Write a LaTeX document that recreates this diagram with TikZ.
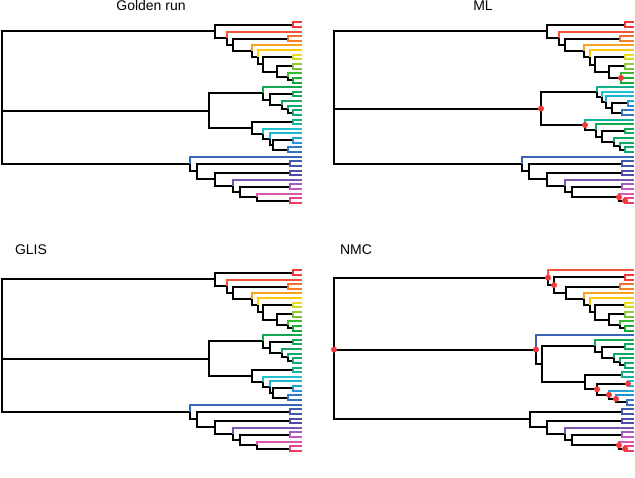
\documentclass[tikz,border=0pt]{standalone}
\usepackage{fontspec}
\setmainfont{Liberation Sans}
\usetikzlibrary{calc}
\definecolor{c1}{Hsb}{0,.78,.95}
\definecolor{c2}{Hsb}{2,.78,.95}
\definecolor{c3}{Hsb}{8,.75,.95}
\definecolor{c4}{Hsb}{20,.8,.95}
\definecolor{c5}{Hsb}{26,.85,.95}
\definecolor{c6}{Hsb}{36,.88,.97}
\definecolor{c7}{Hsb}{48,.95,.97}
\definecolor{c8}{Hsb}{56,.9,.92}
\definecolor{c9}{Hsb}{64,.85,.85}
\definecolor{c10}{Hsb}{82,.7,.78}
\definecolor{c11}{Hsb}{92,.7,.75}
\definecolor{c12}{Hsb}{115,.75,.72}
\definecolor{c13}{Hsb}{128,.85,.68}
\definecolor{c14}{Hsb}{135,.9,.66}
\definecolor{c15}{Hsb}{145,.9,.66}
\definecolor{c16}{Hsb}{148,.9,.66}
\definecolor{c17}{Hsb}{150,.9,.66}
\definecolor{c18}{Hsb}{152,.9,.66}
\definecolor{c19}{Hsb}{154,.9,.66}
\definecolor{c20}{Hsb}{156,.9,.66}
\definecolor{c21}{Hsb}{158,.9,.66}
\definecolor{c22}{Hsb}{165,.9,.68}
\definecolor{c23}{Hsb}{172,.9,.7}
\definecolor{c24}{Hsb}{184,.85,.8}
\definecolor{c25}{Hsb}{190,.85,.82}
\definecolor{c26}{Hsb}{198,.85,.85}
\definecolor{c27}{Hsb}{203,.85,.85}
\definecolor{c28}{Hsb}{212,.75,.78}
\definecolor{c29}{Hsb}{217,.7,.75}
\definecolor{c30}{Hsb}{220,.68,.72}
\definecolor{c31}{Hsb}{224,.65,.7}
\definecolor{c32}{Hsb}{228,.62,.68}
\definecolor{c33}{Hsb}{236,.55,.65}
\definecolor{c34}{Hsb}{242,.55,.65}
\definecolor{c35}{Hsb}{262,.5,.68}
\definecolor{c36}{Hsb}{285,.5,.72}
\definecolor{c37}{Hsb}{300,.55,.78}
\definecolor{c38}{Hsb}{318,.6,.85}
\definecolor{c39}{Hsb}{335,.7,.9}
\definecolor{c40}{Hsb}{348,.75,.92}
\definecolor{dotred}{HTML}{F23A3A}
\tikzset{title/.style={font=\fontsize{14}{16}\selectfont,anchor=base,inner sep=0pt}}
\newcommand\tnode[4]{\path let \p1=(#3),\p2=(#4) in coordinate (#1) at (#2pt,{0.5*\y1+0.5*\y2});}
\newcommand\tbk[2]{\draw (#1) |- (#2);}
\newcommand\tlv[3]{\draw[c#3] (#1) |- (#2L#3);}
\newcommand\tdot[1]{\fill[dotred] (#1) circle (3pt);}
\newcommand\goldtree[2]{%
\foreach \id [count=\k] in {1,...,40} {\coordinate (#1L\id) at (302,{#2+22.3+(\k-1)*4.633});}
\tnode{#1t1}{293}{#1L1}{#1L2}
\tnode{#1t9}{293}{#1L13}{#1L14}
\tnode{#1t8}{288}{#1L12}{#1t9}
\tnode{#1t7}{293}{#1L10}{#1L11}
\tnode{#1t6}{277}{#1t7}{#1t8}
\tnode{#1t5}{293}{#1L8}{#1L9}
\tnode{#1t4}{263}{#1t5}{#1t6}
\tnode{#1t3}{258}{#1L7}{#1t4}
\tnode{#1t2}{252}{#1L6}{#1t3}
\tnode{#1t10}{288}{#1L4}{#1L5}
\tnode{#1t11}{233}{#1t10}{#1t2}
\tnode{#1t12}{227}{#1L3}{#1t11}
\tnode{#1tT}{215}{#1t1}{#1t12}
\tnode{#1m2}{293}{#1L16}{#1L17}
\tnode{#1m5}{293}{#1L20}{#1L21}
\tnode{#1m4}{288}{#1L19}{#1m5}
\tnode{#1m3}{282}{#1L18}{#1m4}
\tnode{#1m1}{270}{#1m2}{#1m3}
\tnode{#1M1}{263}{#1L15}{#1m1}
\tnode{#1n0}{293}{#1L22}{#1L23}
\tnode{#1n4}{293}{#1L26}{#1L27}
\tnode{#1n5}{288}{#1L28}{#1L29}
\tnode{#1n3}{273}{#1n4}{#1n5}
\tnode{#1n2}{270}{#1L25}{#1n3}
\tnode{#1n1}{263}{#1L24}{#1n2}
\tnode{#1M2}{252}{#1n0}{#1n1}
\tnode{#1MM}{209}{#1M1}{#1M2}
\tnode{#1b8}{290}{#1L31}{#1L32}
\tnode{#1b1}{290}{#1L33}{#1L34}
\tnode{#1b4}{290}{#1L36}{#1L37}
\tnode{#1b6}{290}{#1L39}{#1L40}
\tnode{#1b5}{257}{#1L38}{#1b6}
\tnode{#1b3}{240}{#1b4}{#1b5}
\tnode{#1b2}{233}{#1L35}{#1b3}
\tnode{#1b7}{215}{#1b1}{#1b2}
\tnode{#1b9}{197}{#1b8}{#1b7}
\tnode{#1BB}{190}{#1L30}{#1b9}
\tnode{#1R}{2}{#1tT}{#1BB}
\tbk{#1R}{#1tT}\tbk{#1R}{#1MM}\tbk{#1R}{#1BB}
\tbk{#1tT}{#1t1}\tlv{#1t1}{#1}{1}\tlv{#1t1}{#1}{2}
\tbk{#1tT}{#1t12}\tlv{#1t12}{#1}{3}\tbk{#1t12}{#1t11}
\tbk{#1t11}{#1t10}\tlv{#1t10}{#1}{4}\tlv{#1t10}{#1}{5}
\tbk{#1t11}{#1t2}\tlv{#1t2}{#1}{6}\tbk{#1t2}{#1t3}
\tlv{#1t3}{#1}{7}\tbk{#1t3}{#1t4}
\tbk{#1t4}{#1t5}\tlv{#1t5}{#1}{8}\tlv{#1t5}{#1}{9}
\tbk{#1t4}{#1t6}\tbk{#1t6}{#1t7}\tlv{#1t7}{#1}{10}\tlv{#1t7}{#1}{11}
\tbk{#1t6}{#1t8}\tlv{#1t8}{#1}{12}\tbk{#1t8}{#1t9}\tlv{#1t9}{#1}{13}\tlv{#1t9}{#1}{14}
\tbk{#1MM}{#1M1}\tbk{#1MM}{#1M2}
\tlv{#1M1}{#1}{15}\tbk{#1M1}{#1m1}
\tbk{#1m1}{#1m2}\tlv{#1m2}{#1}{16}\tlv{#1m2}{#1}{17}
\tbk{#1m1}{#1m3}\tlv{#1m3}{#1}{18}\tbk{#1m3}{#1m4}
\tlv{#1m4}{#1}{19}\tbk{#1m4}{#1m5}\tlv{#1m5}{#1}{20}\tlv{#1m5}{#1}{21}
\tbk{#1M2}{#1n0}\tlv{#1n0}{#1}{22}\tlv{#1n0}{#1}{23}
\tbk{#1M2}{#1n1}\tlv{#1n1}{#1}{24}\tbk{#1n1}{#1n2}
\tlv{#1n2}{#1}{25}\tbk{#1n2}{#1n3}
\tbk{#1n3}{#1n4}\tlv{#1n4}{#1}{26}\tlv{#1n4}{#1}{27}
\tbk{#1n3}{#1n5}\tlv{#1n5}{#1}{28}\tlv{#1n5}{#1}{29}
\tlv{#1BB}{#1}{30}\tbk{#1BB}{#1b9}
\tbk{#1b9}{#1b8}\tlv{#1b8}{#1}{31}\tlv{#1b8}{#1}{32}
\tbk{#1b9}{#1b7}\tbk{#1b7}{#1b1}\tlv{#1b1}{#1}{33}\tlv{#1b1}{#1}{34}
\tbk{#1b7}{#1b2}\tlv{#1b2}{#1}{35}\tbk{#1b2}{#1b3}
\tbk{#1b3}{#1b4}\tlv{#1b4}{#1}{36}\tlv{#1b4}{#1}{37}
\tbk{#1b3}{#1b5}\tlv{#1b5}{#1}{38}\tbk{#1b5}{#1b6}\tlv{#1b6}{#1}{39}\tlv{#1b6}{#1}{40}
}
\begin{document}
\begin{tikzpicture}[x=1pt,y=-1pt,line width=2pt,line join=miter]
\fill[white] (0,0) rectangle (635,478);
\useasboundingbox (0,0) rectangle (635,478);
\goldtree{g}{0}
\goldtree{s}{248}
% ---------------- ML ----------------
\foreach \id [count=\k] in {1,2,3,4,5,6,7,8,9,10,11,12,13,14,22,24,25,26,27,28,29,23,15,16,17,18,19,20,21,30,31,32,33,34,35,36,37,38,39,40} {\coordinate (mL\id) at (634,{22.3+(\k-1)*4.633});}
\tnode{mt1}{625}{mL1}{mL2}
\tnode{mt8}{621}{mL12}{mL14}
\tnode{mt7}{625}{mL10}{mL11}
\tnode{mt6}{609}{mt7}{mt8}
\tnode{mt5}{625}{mL8}{mL9}
\tnode{mt4}{595}{mt5}{mt6}
\tnode{mt3}{590}{mL7}{mt4}
\tnode{mt2}{584}{mL6}{mt3}
\tnode{mt10}{620}{mL4}{mL5}
\tnode{mt11}{565}{mt10}{mt2}
\tnode{mt12}{559}{mL3}{mt11}
\tnode{mtT}{547}{mt1}{mt12}
\tnode{mn4}{628}{mL26}{mL27}
\tnode{mn5}{622}{mL28}{mL29}
\tnode{mn3}{612}{mn4}{mn5}
\tnode{mn2}{606}{mL25}{mn3}
\tnode{mn1}{602}{mL24}{mn2}
\tnode{mM2}{597}{mL22}{mn1}
\tnode{mm2}{625}{mL16}{mL17}
\tnode{mm5}{625}{mL20}{mL21}
\tnode{mm4}{620}{mL19}{mm5}
\tnode{mm3}{614}{mL18}{mm4}
\tnode{mm1}{602}{mm2}{mm3}
\tnode{mMg}{596}{mL15}{mm1}
\tnode{mM1}{585}{mL23}{mMg}
\tnode{mMM}{541}{mM2}{mM1}
\tnode{mb8}{622}{mL31}{mL32}
\tnode{mb1}{622}{mL33}{mL34}
\tnode{mb4}{622}{mL36}{mL37}
\tnode{mb6}{625}{mL39}{mL40}
\tnode{mb5}{619}{mL38}{mb6}
\tnode{mb3}{572}{mb4}{mb5}
\tnode{mb2}{565}{mL35}{mb3}
\tnode{mb7}{547}{mb1}{mb2}
\tnode{mb9}{529}{mb8}{mb7}
\tnode{mBB}{522}{mL30}{mb9}
\tnode{mR}{334}{mtT}{mBB}
\tbk{mR}{mtT}\tbk{mR}{mMM}\tbk{mR}{mBB}
\tbk{mtT}{mt1}\tlv{mt1}{m}{1}\tlv{mt1}{m}{2}
\tbk{mtT}{mt12}\tlv{mt12}{m}{3}\tbk{mt12}{mt11}
\tbk{mt11}{mt10}\tlv{mt10}{m}{4}\tlv{mt10}{m}{5}
\tbk{mt11}{mt2}\tlv{mt2}{m}{6}\tbk{mt2}{mt3}
\tlv{mt3}{m}{7}\tbk{mt3}{mt4}
\tbk{mt4}{mt5}\tlv{mt5}{m}{8}\tlv{mt5}{m}{9}
\tbk{mt4}{mt6}\tbk{mt6}{mt7}\tlv{mt7}{m}{10}\tlv{mt7}{m}{11}
\tbk{mt6}{mt8}\tlv{mt8}{m}{12}\tlv{mt8}{m}{13}\tlv{mt8}{m}{14}
\tbk{mMM}{mM2}\tbk{mMM}{mM1}
\tlv{mM2}{m}{22}\tbk{mM2}{mn1}
\tlv{mn1}{m}{24}\tbk{mn1}{mn2}
\tlv{mn2}{m}{25}\tbk{mn2}{mn3}
\tbk{mn3}{mn4}\tlv{mn4}{m}{26}\tlv{mn4}{m}{27}
\tbk{mn3}{mn5}\tlv{mn5}{m}{28}\tlv{mn5}{m}{29}
\tlv{mM1}{m}{23}\tbk{mM1}{mMg}
\tlv{mMg}{m}{15}\tbk{mMg}{mm1}
\tbk{mm1}{mm2}\tlv{mm2}{m}{16}\tlv{mm2}{m}{17}
\tbk{mm1}{mm3}\tlv{mm3}{m}{18}\tbk{mm3}{mm4}
\tlv{mm4}{m}{19}\tbk{mm4}{mm5}\tlv{mm5}{m}{20}\tlv{mm5}{m}{21}
\tlv{mBB}{m}{30}\tbk{mBB}{mb9}
\tbk{mb9}{mb8}\tlv{mb8}{m}{31}\tlv{mb8}{m}{32}
\tbk{mb9}{mb7}\tbk{mb7}{mb1}\tlv{mb1}{m}{33}\tlv{mb1}{m}{34}
\tbk{mb7}{mb2}\tlv{mb2}{m}{35}\tbk{mb2}{mb3}
\tbk{mb3}{mb4}\tlv{mb4}{m}{36}\tlv{mb4}{m}{37}
\tbk{mb3}{mb5}\tlv{mb5}{m}{38}\tbk{mb5}{mb6}\tlv{mb6}{m}{39}\tlv{mb6}{m}{40}
\tdot{mt8}\tdot{mMM}\tdot{mM1}\tdot{mb5}\tdot{mb6}
% ---------------- NMC ----------------
\foreach \id [count=\k] in {3,1,2,4,5,6,7,8,9,10,11,12,13,14,30,15,16,17,18,19,20,21,22,23,24,25,26,27,28,29,31,32,33,34,35,36,37,38,39,40} {\coordinate (nL\id) at (634,{270.3+(\k-1)*4.633});}
\tnode{nt1}{625}{nL1}{nL2}
\tnode{nt9}{625}{nL13}{nL14}
\tnode{nt8}{620}{nL12}{nt9}
\tnode{nt7}{625}{nL10}{nL11}
\tnode{nt6}{609}{nt7}{nt8}
\tnode{nt5}{625}{nL8}{nL9}
\tnode{nt4}{595}{nt5}{nt6}
\tnode{nt3}{590}{nL7}{nt4}
\tnode{nt2}{584}{nL6}{nt3}
\tnode{nt10}{620}{nL4}{nL5}
\tnode{nt11}{566}{nt10}{nt2}
\tnode{nt12}{554}{nt1}{nt11}
\tnode{ntT}{548}{nL3}{nt12}
\tnode{nm2}{625}{nL16}{nL17}
\tnode{nm5}{625}{nL20}{nL21}
\tnode{nm4}{620}{nL19}{nm5}
\tnode{nm3}{614}{nL18}{nm4}
\tnode{nm1}{602}{nm2}{nm3}
\tnode{nM1}{595}{nL15}{nm1}
\tnode{nn0}{622}{nL22}{nL23}
\tnode{nn7}{628}{nL24}{nL25}
\tnode{nnz}{627}{nL28}{nL29}
\tnode{nn9}{616}{nL27}{nnz}
\tnode{nn8}{609}{nL26}{nn9}
\tnode{nn1}{597}{nn7}{nn8}
\tnode{nM2}{585}{nn0}{nn1}
\tnode{nY}{542}{nM1}{nM2}
\tnode{nX}{536}{nL30}{nY}
\tnode{nb8}{622}{nL31}{nL32}
\tnode{nb1}{622}{nL33}{nL34}
\tnode{nb4}{622}{nL36}{nL37}
\tnode{nb6}{625}{nL39}{nL40}
\tnode{nb5}{619}{nL38}{nb6}
\tnode{nb3}{572}{nb4}{nb5}
\tnode{nb2}{565}{nL35}{nb3}
\tnode{nb7}{547}{nb1}{nb2}
\tnode{nb9}{530}{nb8}{nb7}
\tnode{nR}{334}{ntT}{nb9}
\coordinate (nRd) at (nR |- nX);
\tbk{nR}{ntT}\tbk{nR}{nX}\tbk{nR}{nb9}
\tlv{ntT}{n}{3}\tbk{ntT}{nt12}
\tbk{nt12}{nt1}\tlv{nt1}{n}{1}\tlv{nt1}{n}{2}
\tbk{nt12}{nt11}\tbk{nt11}{nt10}\tlv{nt10}{n}{4}\tlv{nt10}{n}{5}
\tbk{nt11}{nt2}\tlv{nt2}{n}{6}\tbk{nt2}{nt3}
\tlv{nt3}{n}{7}\tbk{nt3}{nt4}
\tbk{nt4}{nt5}\tlv{nt5}{n}{8}\tlv{nt5}{n}{9}
\tbk{nt4}{nt6}\tbk{nt6}{nt7}\tlv{nt7}{n}{10}\tlv{nt7}{n}{11}
\tbk{nt6}{nt8}\tlv{nt8}{n}{12}\tbk{nt8}{nt9}\tlv{nt9}{n}{13}\tlv{nt9}{n}{14}
\tlv{nX}{n}{30}\tbk{nX}{nY}
\tbk{nY}{nM1}\tbk{nY}{nM2}
\tlv{nM1}{n}{15}\tbk{nM1}{nm1}
\tbk{nm1}{nm2}\tlv{nm2}{n}{16}\tlv{nm2}{n}{17}
\tbk{nm1}{nm3}\tlv{nm3}{n}{18}\tbk{nm3}{nm4}
\tlv{nm4}{n}{19}\tbk{nm4}{nm5}\tlv{nm5}{n}{20}\tlv{nm5}{n}{21}
\tbk{nM2}{nn0}\tlv{nn0}{n}{22}\tlv{nn0}{n}{23}
\tbk{nM2}{nn1}\tbk{nn1}{nn7}\tlv{nn7}{n}{24}\tlv{nn7}{n}{25}
\tbk{nn1}{nn8}\tlv{nn8}{n}{26}\tbk{nn8}{nn9}
\tlv{nn9}{n}{27}\tbk{nn9}{nnz}\tlv{nnz}{n}{28}\tlv{nnz}{n}{29}
\tbk{nb9}{nb8}\tlv{nb8}{n}{31}\tlv{nb8}{n}{32}
\tbk{nb9}{nb7}\tbk{nb7}{nb1}\tlv{nb1}{n}{33}\tlv{nb1}{n}{34}
\tbk{nb7}{nb2}\tlv{nb2}{n}{35}\tbk{nb2}{nb3}
\tbk{nb3}{nb4}\tlv{nb4}{n}{36}\tlv{nb4}{n}{37}
\tbk{nb3}{nb5}\tlv{nb5}{n}{38}\tbk{nb5}{nb6}\tlv{nb6}{n}{39}\tlv{nb6}{n}{40}
\tdot{ntT}\tdot{nt12}\tdot{nX}\tdot{nRd}\tdot{nn1}\tdot{nn7}\tdot{nn8}\tdot{nn9}\tdot{nb5}\tdot{nb6}
% ---------------- titles ----------------
\node[title] (tg) at (151,11) {Golden run};
\node[title] (tm) at (483,11) {ML};
\node[title] (ts) at (31,255) {GLIS};
\node[title] (tn) at (356,255) {NMC};
\end{tikzpicture}
\end{document}
